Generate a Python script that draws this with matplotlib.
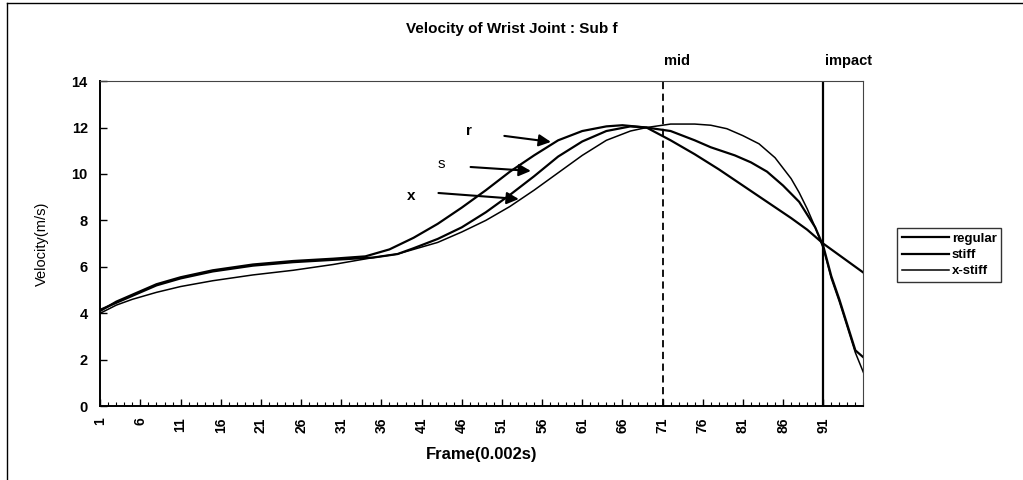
import matplotlib.pyplot as plt
from matplotlib.lines import Line2D

# values (frame number -> velocity m/s)
reg_frames = [1, 3, 5, 8, 11, 15, 20, 25, 30, 34, 37, 40, 43, 46, 49, 52, 55, 58, 61, 64, 66, 69,
              72, 75, 78, 81, 84, 87, 89, 91, 93, 96]
reg_vel = [4.1, 4.5, 4.8, 5.25, 5.55, 5.85, 6.1, 6.25, 6.35, 6.45, 6.75, 7.25, 7.85, 8.55, 9.3, 10.1,
           10.8, 11.45, 11.85, 12.05, 12.1, 12.0, 11.45, 10.85, 10.2, 9.5, 8.8, 8.1, 7.6, 7.0, 6.5, 5.75]

stiff_frames = [1, 3, 5, 8, 11, 15, 20, 25, 30, 35, 38, 40, 43, 46, 49, 52, 55, 58, 61, 64, 67, 69,
                72, 75, 77, 80, 82, 84, 86, 88, 90, 91, 92, 93, 94, 95, 96]
stiff_vel = [4.15, 4.45, 4.75, 5.2, 5.5, 5.8, 6.05, 6.2, 6.3, 6.4, 6.55, 6.8, 7.2, 7.7, 8.35, 9.1,
             9.9, 10.75, 11.4, 11.85, 12.05, 12.0, 11.85, 11.45, 11.15, 10.8, 10.5, 10.1, 9.5, 8.8,
             7.7, 6.9, 5.6, 4.6, 3.5, 2.4, 2.1]

xstiff_frames = [1, 3, 5, 8, 11, 15, 20, 25, 30, 35, 38, 40, 43, 46, 49, 52, 55, 58, 61, 64, 67, 69,
                 72, 75, 77, 79, 81, 83, 85, 87, 88, 89, 90, 91, 92, 93, 94, 95, 96]
xstiff_vel = [4.0, 4.35, 4.6, 4.9, 5.15, 5.4, 5.65, 5.85, 6.1, 6.4, 6.55, 6.75, 7.05, 7.5, 8.0, 8.6,
              9.3, 10.05, 10.8, 11.45, 11.85, 12.0, 12.15, 12.15, 12.1, 11.95, 11.65, 11.3, 10.7,
              9.8, 9.2, 8.5, 7.7, 6.8, 5.5, 4.5, 3.4, 2.3, 1.45]

tick_frames = list(range(1, 96, 5))
mid_frame = 71
impact_frame = 91

plt.rcParams['font.family'] = ['Liberation Sans', 'DejaVu Sans']

fig = plt.figure(figsize=(10.23, 4.8), dpi=100)
ax = fig.add_axes([0.098, 0.154, 0.746, 0.677])

ax.plot(reg_frames, reg_vel, color='black', lw=1.6, label='regular')
ax.plot(stiff_frames, stiff_vel, color='black', lw=1.6, label='stiff')
ax.plot(xstiff_frames, xstiff_vel, color='black', lw=1.1, label='x-stiff')

ax.axvline(mid_frame, color='black', lw=1.3, ls=(0, (4, 2.5)))
ax.axvline(impact_frame, color='black', lw=1.6)

ax.set_xlim(1, 96)
ax.set_ylim(0, 14)
ax.set_yticks(range(0, 15, 2))
ax.set_xticks(tick_frames)
ax.set_xticks(range(1, 97), minor=True)
ax.set_xticklabels([str(f) for f in tick_frames], rotation=90, fontsize=10, fontweight='bold')
ax.set_yticklabels([str(v) for v in range(0, 15, 2)], fontsize=10.5, fontweight='bold')
ax.tick_params(axis='both', direction='in', length=5, width=1, pad=9)
ax.tick_params(axis='x', which='minor', direction='in', length=3, width=0.8)
ax.tick_params(axis='x', which='major', pad=8)

for side in ['left', 'bottom']:
    ax.spines[side].set_linewidth(1.4)
for side in ['top', 'right']:
    ax.spines[side].set_linewidth(0.8)
    ax.spines[side].set_color('#444444')

ax.set_xlabel('Frame(0.002s)', fontsize=12, fontweight='bold', labelpad=10)
ax.set_ylabel('Velocity(m/s)', fontsize=10.5, labelpad=16)

fig.text(0.5, 0.94, 'Velocity of Wrist Joint : Sub f', ha='center', va='center',
         fontsize=11, fontweight='bold')
fig.text(677 / 1023, 1 - 61 / 480, 'mid', ha='center', va='center', fontsize=10.5, fontweight='bold')
fig.text(848 / 1023, 1 - 61 / 480, 'impact', ha='center', va='center', fontsize=10.5, fontweight='bold')

# curve labels with arrows
arrow = dict(arrowstyle='-|>', color='black', lw=1.5, mutation_scale=18, shrinkA=0, shrinkB=0)
ax.text(46.9, 11.85, 'r', ha='center', va='center', fontsize=11, fontweight='bold')
ax.annotate('', xy=(57.1, 11.38), xytext=(51.3, 11.64), arrowprops=arrow)
ax.text(43.5, 10.43, 's', ha='center', va='center', fontsize=11)
ax.annotate('', xy=(54.6, 10.13), xytext=(47.1, 10.3), arrowprops=arrow)
ax.text(39.75, 9.05, 'x', ha='center', va='center', fontsize=11, fontweight='bold')
ax.annotate('', xy=(53.1, 8.92), xytext=(43.1, 9.18), arrowprops=arrow)

handles = [Line2D([], [], color='black', lw=1.6), Line2D([], [], color='black', lw=1.6),
           Line2D([], [], color='black', lw=1.1)]
leg = fig.legend(handles, ['regular', 'stiff', 'x-stiff'], loc='center left',
                 bbox_to_anchor=(897 / 1023, 1 - 255 / 480), frameon=True, fancybox=False,
                 edgecolor='black', fontsize=9.5, handlelength=3.6, handletextpad=0.2,
                 labelspacing=0.3, borderpad=0.35, borderaxespad=0)
leg.get_frame().set_linewidth(1.0)
for t in leg.get_texts():
    t.set_fontweight('bold')

# chart area border (left and top edges visible in the scan)
fig.add_artist(Line2D([7 / 1023, 7 / 1023], [0, 1 - 3 / 480], color='black', lw=1.0))
fig.add_artist(Line2D([7 / 1023, 1], [1 - 3 / 480, 1 - 3 / 480], color='black', lw=1.0))

fig.savefig('out.png', dpi=100)
